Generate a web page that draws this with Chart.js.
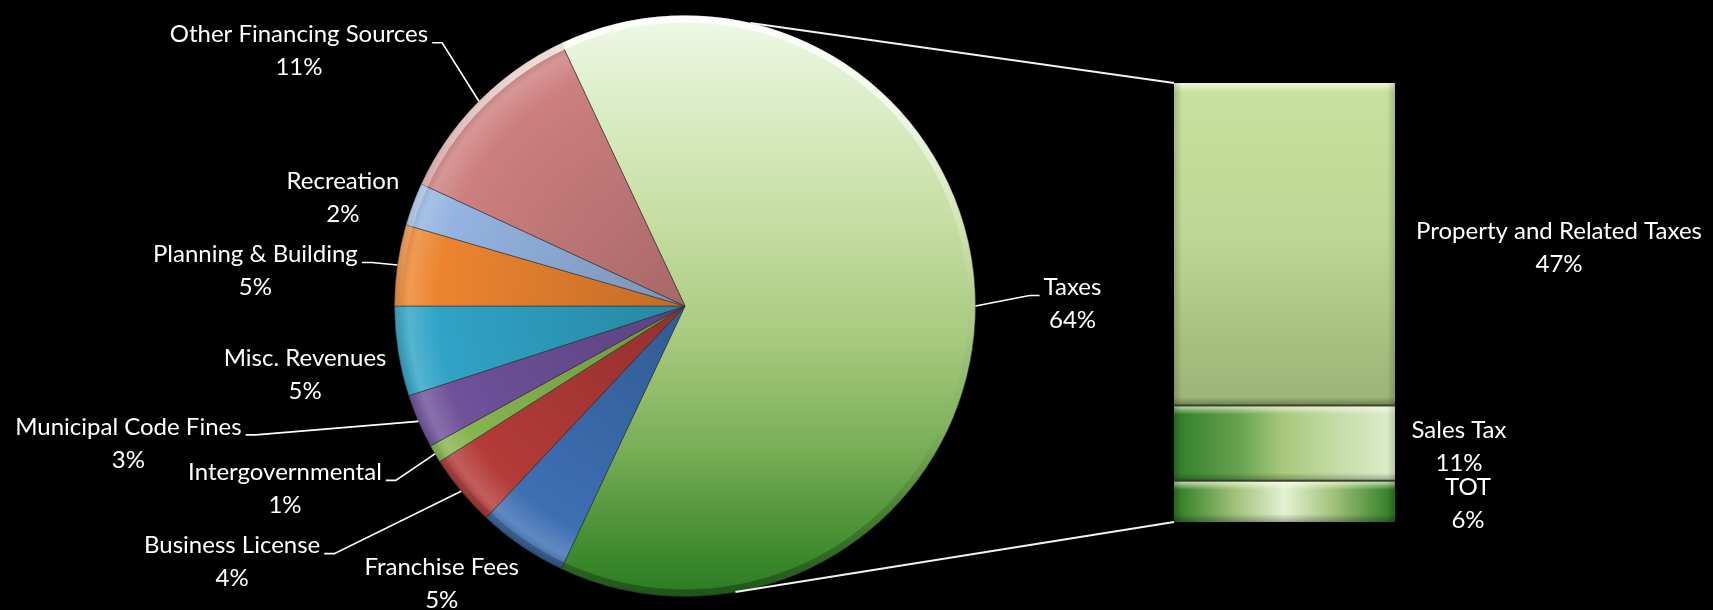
<!DOCTYPE html>
<html>
<head>
<meta charset="utf-8">
<script src="https://cdn.jsdelivr.net/npm/chart.js@4.4.1/dist/chart.umd.min.js"></script>
<style>
  html, body { margin: 0; padding: 0; background: #000; }
  #wrap { position: relative; width: 1713px; height: 610px; }
  #wrap canvas { position: absolute; left: 0; top: 0; }
</style>
</head>
<body>
<div id="wrap">
  <canvas id="pieChart" width="1713" height="610"></canvas>
  <canvas id="barChart" width="1713" height="610"></canvas>
</div>
<script>
// pie slices, clockwise starting with Taxes
const pieLabels = ['Taxes', 'Franchise Fees', 'Business License', 'Intergovernmental', 'Municipal Code Fines',
                   'Misc. Revenues', 'Planning & Building', 'Recreation', 'Other Financing Sources'];
const pieValues = [64, 5, 4, 1, 3, 5, 4.5, 2.4, 11.1];
const pieColors = ['#b1cf88', '#3d6fb3', '#b33b38', '#86b44f', '#6e519a', '#30a3c6', '#ec842f', '#94b3e0', '#cc7f7e'];

// breakdown of Taxes in the bar, top to bottom
const barLabels = ['Property and Related Taxes', 'Sales Tax', 'TOT'];
const barValues = [47, 11, 6];

// label placement: offset of the label block from the slice edge midpoint, leader line or not
const pieLabelOffsets = [[97, -2, true], [-80, 37, false], [-229, 71, true], [-150, 35, true], [-290, 22, true],
                         [-93, 23, false], [-142, 6, true], [-70, -6, false], [-180, -50, true]];
// offset of bar labels from the bar's right edge / segment middle
const barLabelOffsets = [[164, 4], [64, 4], [73, 2]];

const FONT = '24px Lato, "Noto Sans", sans-serif';
const LINE = 33;
const total = pieValues.reduce((a, b) => a + b, 0);
const pct = v => Math.round(v / total * 100) + '%';

// colour helpers
function mix(hex, target, amt) {
    const a = parseInt(hex.slice(1), 16), b = parseInt(target.slice(1), 16);
    const ch = (n, s) => (n >> s) & 255;
    const c = [16, 8, 0].map(s => Math.round(ch(a, s) + (ch(b, s) - ch(a, s)) * amt));
    return 'rgb(' + c.join(',') + ')';
}

function pieGeom(chart) {
    const a = chart.chartArea;
    return { cx: (a.left + a.right) / 2, cy: (a.top + a.bottom) / 2, r: Math.min(a.right - a.left, a.bottom - a.top) / 2 };
}

function sliceFill(context) {
    const chart = context.chart;
    if (!chart.chartArea) return pieColors[context.dataIndex];
    const { cx, cy, r } = pieGeom(chart);
    const ctx = chart.ctx;
    if (context.dataIndex === 0) {
        // Taxes: light at the top, dark green at the bottom
        const g = ctx.createLinearGradient(0, cy - r, 0, cy + r);
        g.addColorStop(0, '#f1f8e8');
        g.addColorStop(0.15, '#dcedc8');
        g.addColorStop(0.35, '#c6dea3');
        g.addColorStop(0.55, '#a9cb80');
        g.addColorStop(0.75, '#78ad56');
        g.addColorStop(0.9, '#468f33');
        g.addColorStop(1, '#2a7a22');
        return g;
    }
    const base = pieColors[context.dataIndex];
    const g = ctx.createRadialGradient(cx, cy, 0, cx, cy, r);
    g.addColorStop(0, mix(base, '#000000', 0.18));
    g.addColorStop(0.85, base);
    g.addColorStop(0.95, mix(base, '#ffffff', 0.18));
    g.addColorStop(1, mix(base, '#000000', 0.1));
    return g;
}

const pieLabelPlugin = {
    id: 'pieLabels',
    afterDatasetsDraw(chart) {
        const ctx = chart.ctx;
        const meta = chart.getDatasetMeta(0);
        const first = meta.data[0];

        // rim of the pie: glow on top, shade below
        const rim = ctx.createLinearGradient(0, first.y - first.outerRadius, 0, first.y + first.outerRadius);
        rim.addColorStop(0, 'rgba(255,255,255,0.85)');
        rim.addColorStop(0.4, 'rgba(255,255,255,0.15)');
        rim.addColorStop(0.7, 'rgba(0,0,0,0)');
        rim.addColorStop(1, 'rgba(0,0,0,0.3)');
        ctx.save();
        ctx.strokeStyle = rim;
        ctx.lineWidth = 7;
        ctx.beginPath();
        ctx.arc(first.x, first.y, first.outerRadius - 3.5, 0, Math.PI * 2);
        ctx.stroke();
        ctx.restore();

        ctx.save();
        ctx.font = FONT;
        ctx.fillStyle = '#fff';
        ctx.strokeStyle = '#fff';
        ctx.lineWidth = 1.6;
        ctx.textAlign = 'center';
        ctx.textBaseline = 'middle';
        meta.data.forEach((arc, i) => {
            const mid = (arc.startAngle + arc.endAngle) / 2;
            const ex = arc.x + Math.cos(mid) * arc.outerRadius;
            const ey = arc.y + Math.sin(mid) * arc.outerRadius;
            const [dx, dy, leader] = pieLabelOffsets[i];
            const lx = ex + dx, ly = ey + dy;
            const nameY = ly - LINE / 2;
            ctx.fillText(pieLabels[i], lx, nameY);
            ctx.fillText(pct(pieValues[i]), lx, ly + LINE / 2);
            if (leader) {
                const w = ctx.measureText(pieLabels[i]).width;
                const side = lx > ex ? -1 : 1;
                const sx = lx + side * (w / 2 + 4);
                const sy = nameY + 8;
                ctx.beginPath();
                ctx.moveTo(sx, sy);
                ctx.lineTo(sx + side * 10, sy);
                ctx.lineTo(ex, ey);
                ctx.stroke();
            }
        });
        ctx.restore();
    }
};

// centre the Taxes slice on the right-hand side
const rotation = 90 - pieValues[0] / total * 180;

const pieChart = new Chart(document.getElementById('pieChart'), {
    type: 'pie',
    data: {
        labels: pieLabels,
        datasets: [{
            data: pieValues,
            backgroundColor: sliceFill,
            borderColor: 'rgba(50,50,50,0.55)',
            borderWidth: 1,
            hoverOffset: 0,
            offset: 0,
        }],
    },
    options: {
        responsive: false,
        animation: false,
        events: [],
        rotation: rotation,
        layout: { padding: { left: 394, right: 737, top: 15, bottom: 13 } },
        plugins: { legend: { display: false }, tooltip: { enabled: false } },
    },
    plugins: [pieLabelPlugin],
});

// bar segment fills
function barFill(name) {
    return (context) => {
        const chart = context.chart;
        const a = chart.chartArea;
        if (!a) return '#b5cf8c';
        const ctx = chart.ctx;
        let g;
        if (name === 'Property and Related Taxes') {
            g = ctx.createLinearGradient(0, a.top, 0, a.bottom);
            g.addColorStop(0, '#c8e19e');
            g.addColorStop(0.35, '#bcd793');
            g.addColorStop(0.73, '#9bb375');
            g.addColorStop(1, '#9bb375');
        } else if (name === 'Sales Tax') {
            g = ctx.createLinearGradient(a.left, 0, a.right, 0);
            g.addColorStop(0, '#2f7e27');
            g.addColorStop(0.3, '#6aa352');
            g.addColorStop(0.5, '#a9c97e');
            g.addColorStop(0.75, '#c5ddaa');
            g.addColorStop(1, '#dfeecd');
        } else {
            g = ctx.createLinearGradient(a.left, 0, a.right, 0);
            g.addColorStop(0, '#2c7a22');
            g.addColorStop(0.28, '#a2c27a');
            g.addColorStop(0.5, '#e4f1d4');
            g.addColorStop(0.72, '#a2c27a');
            g.addColorStop(1, '#2c7a22');
        }
        return g;
    };
}

const barPlugin = {
    id: 'barDecor',
    afterDatasetsDraw(chart) {
        const ctx = chart.ctx;
        const els = [];
        chart.data.datasets.forEach((ds, di) => {
            const el = chart.getDatasetMeta(di).data[0];
            els.push({ name: ds.label, el });
        });

        // bevel on each segment
        els.forEach(({ el }) => {
            const left = el.x - el.width / 2, right = el.x + el.width / 2;
            const top = Math.min(el.y, el.base), bottom = Math.max(el.y, el.base);
            ctx.save();
            let g = ctx.createLinearGradient(0, top, 0, top + 9);
            g.addColorStop(0, 'rgba(255,255,235,0.75)');
            g.addColorStop(1, 'rgba(255,255,235,0)');
            ctx.fillStyle = g;
            ctx.fillRect(left, top, right - left, 9);
            g = ctx.createLinearGradient(0, bottom - 8, 0, bottom);
            g.addColorStop(0, 'rgba(0,0,0,0)');
            g.addColorStop(1, 'rgba(0,0,0,0.3)');
            ctx.fillStyle = g;
            ctx.fillRect(left, bottom - 8, right - left, 8);
            g = ctx.createLinearGradient(left, 0, left + 8, 0);
            g.addColorStop(0, 'rgba(0,0,0,0.18)');
            g.addColorStop(1, 'rgba(0,0,0,0)');
            ctx.fillStyle = g;
            ctx.fillRect(left, top, 8, bottom - top);
            g = ctx.createLinearGradient(right - 8, 0, right, 0);
            g.addColorStop(0, 'rgba(0,0,0,0)');
            g.addColorStop(1, 'rgba(0,0,0,0.18)');
            ctx.fillStyle = g;
            ctx.fillRect(right - 8, top, 8, bottom - top);
            ctx.restore();
        });

        // separators between segments
        ctx.save();
        ctx.strokeStyle = 'rgba(45,55,35,0.9)';
        ctx.lineWidth = 2;
        els.forEach(({ name, el }) => {
            if (name === barLabels[0]) return;
            const top = Math.min(el.y, el.base);
            ctx.beginPath();
            ctx.moveTo(el.x - el.width / 2, top);
            ctx.lineTo(el.x + el.width / 2, top);
            ctx.stroke();
        });
        ctx.restore();

        // labels
        ctx.save();
        ctx.font = FONT;
        ctx.fillStyle = '#fff';
        ctx.textAlign = 'center';
        ctx.textBaseline = 'middle';
        els.forEach(({ name, el }) => {
            const i = barLabels.indexOf(name);
            const [dx, dy] = barLabelOffsets[i];
            const lx = el.x + el.width / 2 + dx;
            const ly = (el.y + el.base) / 2 + dy;
            ctx.fillText(name, lx, ly - LINE / 2);
            ctx.fillText(pct(barValues[i]), lx, ly + LINE / 2);
        });
        ctx.restore();

        // connector lines from the Taxes slice to the bar
        const arc = pieChart.getDatasetMeta(0).data[0];
        const topEl = els.find(e => e.name === barLabels[0]).el;
        const botEl = els.find(e => e.name === barLabels[barLabels.length - 1]).el;
        const pt = deg => {
            const a = (deg - 90) * Math.PI / 180;
            return [arc.x + Math.cos(a) * arc.outerRadius, arc.y + Math.sin(a) * arc.outerRadius];
        };
        const p1 = pt(13), p2 = pt(170);
        ctx.save();
        ctx.strokeStyle = '#f2f2f2';
        ctx.lineWidth = 2;
        ctx.beginPath();
        ctx.moveTo(p1[0], p1[1]);
        ctx.lineTo(topEl.x - topEl.width / 2, Math.min(topEl.y, topEl.base));
        ctx.moveTo(p2[0], p2[1]);
        ctx.lineTo(botEl.x - botEl.width / 2, Math.max(botEl.y, botEl.base));
        ctx.stroke();
        ctx.restore();
    }
};

const barSum = barValues.reduce((a, b) => a + b, 0);
const barChart = new Chart(document.getElementById('barChart'), {
    type: 'bar',
    data: {
        labels: ['Taxes'],
        // stacked from the bottom: TOT, Sales Tax, Property
        datasets: barLabels.map((name, i) => ({
            label: name,
            data: [barValues[i]],
            backgroundColor: barFill(name),
            borderWidth: 0,
            barPercentage: 1,
            categoryPercentage: 1,
        })).reverse(),
    },
    options: {
        responsive: false,
        animation: false,
        events: [],
        layout: { padding: { left: 1174, right: 318, top: 83, bottom: 88 } },
        scales: {
            x: { stacked: true, display: false },
            y: { stacked: true, display: false, min: 0, max: barSum },
        },
        plugins: { legend: { display: false }, tooltip: { enabled: false } },
    },
    plugins: [barPlugin],
});
</script>
</body>
</html>
